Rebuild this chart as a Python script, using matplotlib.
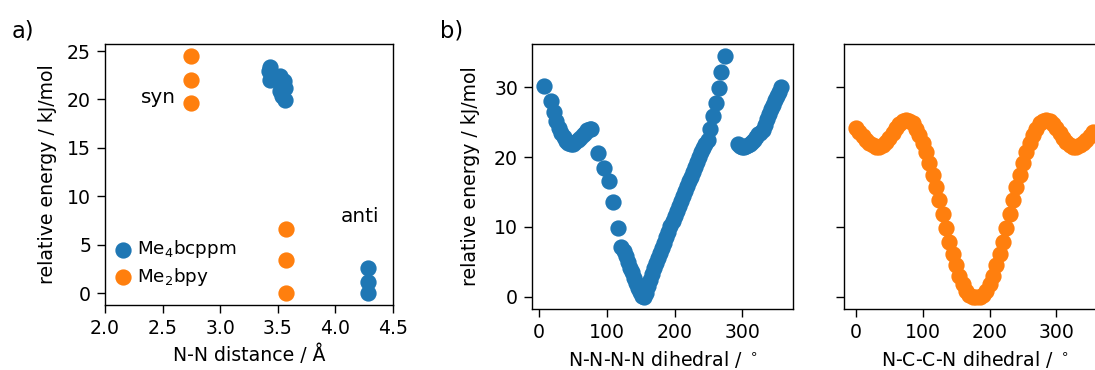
import numpy
from matplotlib import pyplot as plt

BLUE = "#1f77b4"
ORANGE = "#ff7f0e"

# a) energy vs N-N distance
bcppm_dist = [3.43, 3.42, 3.43, 3.52, 3.55, 3.56, 3.52, 3.54, 3.56, 4.28, 4.28, 4.28]
bcppm_energy = [23.4, 22.9, 22.05, 22.4, 21.9, 21.2, 20.85, 20.4, 19.9, 2.6, 1.2, 0.0]
bpy_dist = [2.75, 2.75, 2.75, 3.57, 3.57, 3.57]
bpy_energy = [24.5, 22.0, 19.6, 6.6, 3.4, 0.0]

# b) N-N-N-N dihedral scan (Me4bcppm)
nnnn_angle = [
    6.9, 16.8, 21.7, 25.5, 29.0, 32.5, 36.0, 39.5, 43.0, 46.5, 50.0, 53.5, 57.0,
    60.5, 64.0, 67.5, 71.0, 74.5, 77.0,
    87.0, 95.4, 102.8, 109.0, 116.5, 121.5, 125.0, 128.0, 131.0, 134.0, 137.0,
    140.0, 143.0, 146.0, 149.0, 152.0, 155.0, 158.0, 161.0, 164.0, 167.0, 170.0,
    173.0, 176.0, 179.0, 182.0, 185.0, 188.0, 191.0, 194.0, 197.0, 200.0, 203.0,
    206.0, 209.0, 212.0, 215.0, 218.0, 221.0, 224.0, 227.0, 230.0, 233.0, 236.0,
    239.0, 242.0, 245.0, 249.3, 253.0, 256.6, 260.6, 265.5, 269.0, 273.9,
    293.5, 297.0, 300.0, 303.0, 306.0, 309.0, 312.0, 315.0, 318.0, 321.0, 324.0,
    327.0, 330.0, 333.0, 336.0, 339.0, 342.0, 345.0, 348.0, 351.0, 354.0, 357.5,
]
nnnn_energy = [
    30.1, 28.0, 26.4, 25.2, 24.2, 23.4, 22.8, 22.3, 22.0, 21.9, 21.9, 22.1, 22.4,
    22.7, 23.1, 23.5, 23.8, 24.0, 24.0,
    20.6, 18.5, 16.6, 13.6, 9.9, 7.2, 6.5, 5.8, 5.0, 4.2, 3.5,
    2.7, 2.0, 1.3, 0.7, 0.2, 0.0, 0.6, 1.5, 2.4, 3.3, 4.1,
    4.9, 5.6, 6.3, 7.0, 7.7, 8.5, 9.3, 10.1, 10.9, 11.6, 12.3,
    13.0, 13.7, 14.4, 15.1, 15.8, 16.5, 17.2, 17.9, 18.6, 19.3, 20.0,
    20.7, 21.3, 21.8, 22.4, 24.0, 25.9, 27.7, 29.9, 32.1, 34.5,
    21.8, 21.6, 21.5, 21.5, 21.6, 21.7, 21.9, 22.2, 22.5, 22.9, 23.3,
    23.4, 23.9, 24.6, 25.4, 26.2, 26.9, 27.5, 28.1, 28.7, 29.3, 30.0,
]

# b) N-C-C-N dihedral scan (Me2bpy)
ncc_angle = [
    0, 5, 10, 15, 20, 25, 30, 35, 40, 45, 50, 55, 60, 65, 70, 75, 80, 85,
    90, 95, 100, 105, 110, 115, 120, 125, 130, 135, 140, 145, 150, 155, 160, 165,
    170, 175, 180, 185, 190, 195, 200, 205, 210, 215, 220, 225, 230, 235, 240, 245,
    250, 255, 260, 265, 270, 275, 280, 285, 290, 295, 300, 305, 310, 315, 320, 325,
    330, 335, 340, 345, 350, 355,
]
ncc_energy = [
    24.1, 23.6, 23.0, 22.5, 22.0, 21.7, 21.5, 21.5, 21.7, 22.1, 22.7, 23.4, 24.1, 24.7, 25.1, 25.3, 25.2, 24.8,
    24.0, 23.1, 22.0, 20.7, 19.2, 17.5, 15.7, 13.8, 11.8, 9.8, 7.9, 6.1, 4.5, 3.0, 1.8, 0.9,
    0.3, 0.05, 0.0, 0.05, 0.3, 0.9, 1.8, 3.0, 4.5, 6.1, 7.9, 9.8, 11.8, 13.8, 15.7, 17.5,
    19.2, 20.7, 22.0, 23.1, 24.0, 24.8, 25.2, 25.3, 25.1, 24.7, 24.1, 23.4, 22.7, 22.1, 21.7, 21.5,
    21.5, 21.7, 22.0, 22.5, 23.0, 23.6,
]

plt.rcParams["font.size"] = 10.9
plt.rcParams["xtick.major.size"] = 4.5
plt.rcParams["ytick.major.size"] = 4.5

W, H = 1095, 370
fig = plt.figure(figsize=(W / 125, H / 125), dpi=125)

ax_a = fig.add_axes([105 / W, 1 - 305 / H, 288 / W, 261 / H])
ax_b = fig.add_axes([532 / W, 1 - 309 / H, 261 / W, 265.5 / H])
ax_c = fig.add_axes([844 / W, 1 - 309 / H, 261 / W, 265.5 / H], sharey=ax_b)

ms = 70
ax_a.scatter(bcppm_dist, bcppm_energy, s=ms, color=BLUE, label="Me$_4$bcppm")
ax_a.scatter(bpy_dist, bpy_energy, s=ms, color=ORANGE, label="Me$_2$bpy")
ax_a.set_xlim(2.0, 4.5)
ax_a.set_xticks(numpy.arange(2.0, 4.51, 0.5))
ax_a.set_yticks([0, 5, 10, 15, 20, 25])
ax_a.set_xlabel("N-N distance / Å")
ax_a.set_ylabel("relative energy / kJ/mol", labelpad=6)
ax_a.text(2.62, 20.2, "syn", fontsize=11.5, ha="right", va="center")
ax_a.text(4.21, 7.9, "anti", fontsize=11.5, ha="center", va="center")
ax_a.legend(loc="lower left", bbox_to_anchor=(0, 0.03), frameon=False, fontsize=10.6,
            handlelength=1.0, handletextpad=0.25, borderaxespad=0.1, labelspacing=0.3)

ax_b.scatter(nnnn_angle, nnnn_energy, s=ms, color=BLUE)
ax_b.set_xticks([0, 100, 200, 300])
ax_b.set_yticks([0, 10, 20, 30])
ax_b.set_xlabel("N-N-N-N dihedral / $^\\circ$")
ax_b.set_ylabel("relative energy / kJ/mol", labelpad=8)

ax_c.scatter(ncc_angle, ncc_energy, s=ms, color=ORANGE)
ax_c.set_xticks([0, 100, 200, 300])
ax_c.tick_params(labelleft=False)
ax_c.set_xlabel("N-C-C-N dihedral / $^\\circ$")

fig.text(12 / W, 1 - 38 / H, "a)", fontsize=13)
fig.text(440 / W, 1 - 38 / H, "b)", fontsize=13)

fig.savefig("out.png", dpi=125)
